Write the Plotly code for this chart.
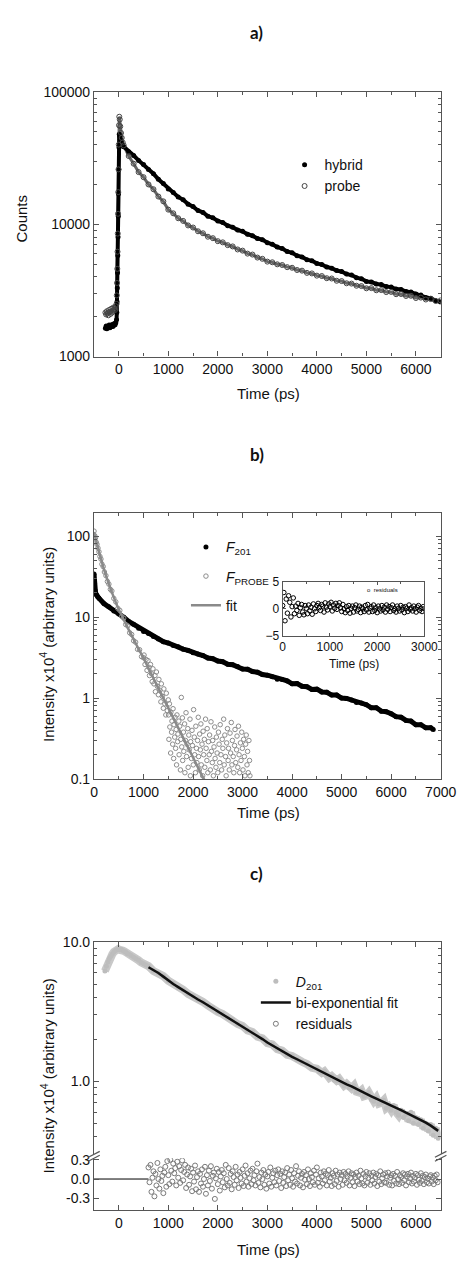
import plotly.graph_objects as go

W, H = 472, 1267
FONT = "Liberation Sans, Arial, sans-serif"
AX = "#555"


def py(p):
    # pixel row -> paper fraction
    return 1 - p / H


def px(p):
    return p / W


# ---------------- panel a) : raw decays (counts) ----------------
a_time_pre = [-270, -255, -240, -225, -210, -195, -180, -165, -150, -135, -120, -105, -90, -75, -60,
              -45, -40, -35, -30, -25, -20, -15, -10, -5, 0, 5, 10, 20, 30, 45, 60, 80]
a_time_decay = list(range(100, 6501, 100))
a_time = a_time_pre + a_time_decay

hybrid_counts = [1640, 1700, 1620, 1690, 1660, 1730, 1650, 1700, 1680, 1750, 1690, 1720, 1780, 1740, 1800,
                 1900, 2150, 2600, 3300, 4300, 5800, 8000, 11500, 17000, 26000, 38000, 48000, 46000, 44000, 42000, 40500, 39500,
                 38600, 35300, 33100, 30400, 28300, 25900, 24100, 21900, 20300, 18500,
                 17400, 16100, 15300, 14200, 13600, 12700, 12300, 11500, 11200, 10600,
                 10300, 9750, 9500, 9050, 8850, 8400, 8200, 7800, 7650, 7250,
                 7050, 6720, 6550, 6230, 6080, 5790, 5660, 5400, 5290, 5060,
                 4960, 4750, 4660, 4470, 4390, 4200, 4130, 3950, 3870, 3700,
                 3660, 3540, 3500, 3380, 3350, 3240, 3210, 3100, 3070, 2970,
                 2920, 2800, 2760, 2640, 2590]

probe_counts = [2150, 2080, 2200, 2120, 2050, 2250, 2180, 2100, 2300, 2150, 2220, 2350, 2300, 2250, 2400,
                2500, 2900, 3600, 4600, 6200, 8500, 12000, 17500, 26000, 40000, 56000, 65000, 62000, 55000, 49000, 45000, 41500,
                39500, 32800, 28700, 24800, 22700, 20000, 18400, 16200, 14900, 12900,
                12100, 11100, 10600, 9800, 9450, 8850, 8550, 8050, 7850, 7450,
                7300, 6950, 6800, 6450, 6320, 6000, 5900, 5600, 5480, 5220,
                5160, 4980, 4920, 4740, 4690, 4510, 4460, 4290, 4250, 4090,
                4060, 3910, 3890, 3740, 3720, 3580, 3560, 3430, 3410, 3280,
                3290, 3170, 3180, 3070, 3080, 2960, 2970, 2870, 2880, 2770,
                2790, 2700, 2720, 2630, 2660]

# ---------------- panel b) : normalised decays ----------------
b_time = [0, 10, 20, 30, 50, 75] + list(range(100, 6801, 100)) + [6850]
f201 = [34, 26, 21.5, 20, 18.8, 17.8,
        17.1, 14.7, 13.4, 11.9, 10.9, 9.95, 8.85, 8.15, 7.3, 6.65,
        6.25, 5.75, 5.35, 4.97, 4.78, 4.46, 4.29, 4.02, 3.88, 3.62,
        3.5, 3.35, 3.12, 3.06, 2.87, 2.81, 2.62, 2.58, 2.46, 2.29,
        2.27, 2.13, 2.09, 1.95, 1.92, 1.84, 1.71, 1.7, 1.63, 1.5,
        1.51, 1.4, 1.38, 1.28, 1.29, 1.19, 1.18, 1.09, 1.09, 1.0,
        0.99, 0.95, 0.88, 0.87, 0.83, 0.76, 0.76, 0.69, 0.68, 0.64,
        0.59, 0.58, 0.53, 0.52, 0.47, 0.47, 0.43, 0.43, 0.41]

fprobe_time = [0, 15, 30, 45, 60, 80, 100, 120, 140, 160, 185, 210, 240, 270, 300, 330, 360, 400, 440, 480,
               520, 560, 600, 640, 680, 720, 760, 800, 840, 880, 920, 960, 1000,
               1010, 1030, 1050, 1070, 1090, 1110, 1120, 1140, 1160, 1175, 1190, 1210, 1230, 1240, 1260,
               1280, 1300, 1310, 1330, 1350, 1360, 1380, 1400, 1410, 1430, 1450, 1460, 1480, 1500,
               1505, 1512, 1523, 1531, 1547, 1552, 1566, 1574, 1588, 1596,
               1608, 1615, 1629, 1637, 1648, 1659, 1667, 1675, 1689, 1694,
               1712, 1718, 1731, 1745, 1752, 1763, 1771, 1784, 1790, 1806,
               1813, 1829, 1836, 1847, 1858, 1869, 1877, 1893, 1901, 1914,
               1922, 1938, 1946, 1951, 1967, 1979, 1988, 2004, 2011, 2025,
               2033, 2048, 2056, 2069, 2077, 2091, 2105, 2112, 2126, 2133,
               2147, 2158, 2166, 2181, 2194, 2203, 2215, 2228, 2237, 2252,
               2264, 2279, 2285, 2298, 2311, 2326, 2334, 2349, 2362, 2371,
               2388, 2396, 2410, 2423, 2437, 2445, 2462, 2471, 2486, 2499,
               2513, 2525, 2539, 2548, 2563, 2577, 2589, 2602, 2618, 2629,
               2641, 2656, 2668, 2679, 2695, 2708, 2716, 2731, 2747, 2758,
               2772, 2785, 2794, 2811, 2823, 2838, 2847, 2862, 2879, 2888,
               2903, 2917, 2929, 2941, 2956, 2968, 2983, 2995, 3008, 3021,
               3036, 3048, 3062, 3074, 3089, 3101, 3115, 3128, 3140, 3148]
fprobe = [115, 101, 95, 84, 79, 71, 64, 56, 52, 45, 42, 36, 32.5, 27.5, 25.5, 22, 21, 17, 15.4, 12.8,
          12.1, 10.2, 9.7, 8.1, 7.8, 6.4, 6.1, 5.1, 4.9, 4.0, 3.95, 3.25, 3.15,
          3.4, 2.6, 3.0, 2.2, 2.9, 2.4, 1.9, 2.6, 2.0, 1.6, 2.3, 1.5, 1.9, 1.2, 2.1,
          1.4, 1.1, 1.7, 1.25, 0.9, 1.5, 1.05, 0.75, 1.3, 0.85, 0.62, 1.15, 0.7, 0.95,
          0.62, 0.31, 0.85, 0.44, 0.21, 0.67, 0.38, 0.52, 0.27, 0.74,
          0.18, 0.47, 0.33, 0.58, 0.24, 0.41, 0.15, 0.62, 0.29, 0.36,
          0.52, 0.2, 0.45, 0.13, 0.31, 1.02, 0.25, 0.57, 0.17, 0.38,
          0.22, 0.48, 0.12, 0.3, 0.66, 0.19, 0.27, 0.42, 0.14, 0.35,
          0.23, 0.55, 0.11, 0.29, 0.18, 0.4, 0.26, 0.15, 0.72, 0.33,
          0.2, 0.12, 0.45, 0.24, 0.16, 0.3, 0.58, 0.19, 0.13, 0.36,
          0.23, 0.48, 0.15, 0.27, 0.11, 0.39, 0.2, 0.31, 0.14, 0.55,
          0.24, 0.17, 0.42, 0.12, 0.29, 0.2, 0.35, 0.13, 0.51, 0.22,
          0.16, 0.3, 0.11, 0.25, 0.44, 0.18, 0.14, 0.33, 0.21, 0.12,
          0.38, 0.27, 0.16, 0.47, 0.2, 0.13, 0.31, 0.24, 0.55, 0.15,
          0.35, 0.19, 0.11, 0.28, 0.42, 0.17, 0.24, 0.13, 0.37, 0.21,
          0.5, 0.15, 0.3, 0.19, 0.12, 0.26, 0.41, 0.16, 0.23, 0.34,
          0.14, 0.45, 0.2, 0.12, 0.28, 0.17, 0.38, 0.24, 0.13, 0.31,
          0.19, 0.11, 0.27, 0.35, 0.15, 0.22, 0.12, 0.3, 0.17, 0.11]

fit_b_time = [0, 50, 100, 150, 200, 300, 400, 500, 600, 700, 800, 900, 1000, 1200, 1400, 1600, 1800, 2000, 2200, 2240]
fit_b = [112, 84, 64, 50, 39, 25.5, 17.5, 12.4, 9.3, 7.0, 5.3, 4.05, 3.1, 1.75, 1.0, 0.57, 0.325, 0.185, 0.105, 0.095]

inset_time = list(range(0, 3001, 25))
inset_resid = [0.6, 3.0, -2.2, 1.8, -0.8, 2.4, 1.2, -1.5, 0.4, 2.0,
               -0.9, 0.5, -0.3, 1.0, -1.2, 0.2, 0.8, -0.6, -1.1, 0.6,
               0.1, -0.9, 0.7, -0.4, 0.3, -1.0, 0.9, 0.0, -0.5, 0.6,
               1.0, 0.2, -0.3, 0.8, 0.5, -0.6, 1.1, 0.3, -0.2, 0.9,
               0.4, 1.2, -0.4, 0.7, 0.1, 1.0, -0.1, 0.6, 1.1, 0.2,
               -0.5, 0.8, 0.0, -0.7, 0.4, -0.3, 0.6, -0.8, 0.1, 0.5,
               -0.6, 0.2, 0.7, -0.4, -0.1, 0.5, -0.7, 0.3, 0.0, -0.5,
               0.6, -0.2, 0.8, -0.6, 0.1, 0.4, -0.5, 0.7, -0.3, 0.2,
               -0.7, 0.5, 0.0, -0.4, 0.6, -0.2, 0.3, -0.6, 0.7, -0.1,
               0.4, -0.5, 0.2, 0.7, -0.3, 0.0, -0.6, 0.5, 0.1, -0.4,
               0.6, -0.2, 0.3, -0.7, 0.4, 0.1, -0.5, 0.7, -0.1, 0.2,
               -0.4, 0.5, 0.0, -0.6, 0.3, 0.6, -0.3, 0.1, -0.5, 0.4,
               0.0]

# ---------------- panel c) : difference decay + fit ----------------
d201_time = ([-280, -250, -220, -190, -160, -130, -100, -70, -40, -10, 20, 50, 80, 110, 140, 170, 200,
              250, 300, 350, 400, 450, 500, 550] + list(range(600, 3901, 100)) + list(range(4000, 6451, 50)))
d201 = [6.2, 6.7, 7.2, 7.6, 7.9, 8.2, 8.5, 8.7, 8.8, 8.9, 8.8, 8.9, 8.7, 8.6, 8.5, 8.3, 8.2,
        8.0, 7.8, 7.6, 7.4, 7.15, 7.0, 6.85,
        6.72, 6.2, 6.0, 5.7, 5.28, 5.05, 4.7, 4.55, 4.25, 4.1,
        3.85, 3.72, 3.5, 3.38, 3.15, 3.04, 2.85, 2.77, 2.58, 2.5,
        2.32, 2.26, 2.09, 2.04, 1.88, 1.84, 1.7, 1.66, 1.55, 1.52,
        1.43, 1.38, 1.33, 1.25,
        1.23, 1.17, 1.15, 1.18, 1.1, 1.06, 1.09, 1.02, 1.01, 1.04,
        0.97, 0.93, 0.96, 0.9, 0.89, 0.93, 0.84, 0.83, 0.86, 0.78,
        0.79, 0.83, 0.74, 0.72, 0.76, 0.69, 0.7, 0.73, 0.64, 0.66,
        0.62, 0.67, 0.6, 0.57, 0.62, 0.55, 0.58, 0.52, 0.6, 0.5,
        0.55, 0.49, 0.53, 0.46, 0.5, 0.44, 0.49, 0.41, 0.46, 0.39]

fit_c_time = list(range(600, 6401, 100)) + [6450]
fit_c = [6.6, 6.3, 6.0, 5.65, 5.3, 5.0, 4.75, 4.5, 4.28, 4.05,
         3.87, 3.7, 3.52, 3.35, 3.17, 3.02, 2.88, 2.74, 2.6, 2.47,
         2.35, 2.23, 2.12, 2.01, 1.9, 1.81, 1.72, 1.64, 1.57, 1.5,
         1.44, 1.38, 1.32, 1.27, 1.22, 1.17, 1.12, 1.08, 1.03, 0.99,
         0.95, 0.92, 0.88, 0.845, 0.81, 0.78, 0.75, 0.72, 0.695, 0.67,
         0.645, 0.62, 0.595, 0.575, 0.555, 0.53, 0.505, 0.48, 0.455, 0.44]

resid_c_time = list(range(600, 6441, 20))
resid_c = [0.18, -0.05, 0.22, -0.2, 0.02, 0.12, -0.27, 0.08, -0.1, 0.25, 0.0, -0.15, 0.15, -0.03, 0.05,
           -0.22, 0.1, 0.19, -0.12, 0.28, 0.06, -0.08, 0.3, 0.13, -0.04, 0.24, 0.09, 0.17, -0.1, 0.27,
           0.02, 0.2, -0.06, 0.14, 0.29, -0.02, 0.11, 0.22, -0.14, 0.07, 0.18, -0.09, 0.04, 0.16, -0.19,
           0.1, -0.04, 0.21, -0.16, 0.03, 0.12, -0.2, 0.08, -0.07, 0.15, -0.12, 0.0, 0.19, -0.23, 0.06,
           -0.1, 0.13, -0.03, 0.2, -0.15, 0.05, 0.1, -0.31, 0.01, 0.16, -0.08, 0.11, -0.18, 0.04, 0.14,
           -0.05, 0.09, -0.13, 0.22, 0.0, -0.1, 0.17, -0.06, 0.08, -0.16, 0.12, 0.03, -0.09, 0.19, -0.02,
           0.07, -0.14, 0.11, 0.02, -0.07, 0.15, -0.11, 0.05, 0.21, -0.04, 0.09, -0.12, 0.01, 0.13, -0.08,
           0.16, -0.02, 0.06, -0.1, 0.12, 0.24, -0.06, 0.03, -0.13, 0.1, 0.0, 0.14, -0.09, 0.07, -0.15,
           0.04, 0.11, -0.07, 0.18, -0.12, 0.02, 0.09, -0.05, 0.13, -0.1, 0.06, 0.15, -0.03, 0.08, -0.14,
           0.12, -0.06, 0.03, 0.1, -0.11, 0.17, -0.02, 0.07, -0.09, 0.14, 0.01, -0.12, 0.09, -0.04, 0.2,
           -0.07, 0.05, 0.12, -0.1, 0.02, 0.08, -0.13, 0.11, -0.01, 0.06, -0.08, 0.15, 0.0, -0.11, 0.09,
           0.03, -0.05, 0.13, -0.09, 0.07, 0.18, -0.06, 0.01, -0.12, 0.1, 0.04, -0.07, 0.12, -0.02, 0.08,
           -0.1, 0.06, 0.14, -0.04, 0.02, -0.11, 0.09, 0.05, -0.08, 0.13, -0.03, 0.07, -0.12, 0.1, 0.0,
           0.06, -0.09, 0.11, -0.02, 0.08, -0.06, 0.04, 0.12, -0.1, 0.02, 0.09, -0.05, 0.07, -0.11, 0.03,
           0.1, -0.04, 0.05, -0.08, 0.13, 0.01, -0.07, 0.08, -0.1, 0.04, 0.11, -0.06, 0.02, 0.09, -0.09,
           0.05, -0.02, 0.1, -0.07, 0.03, 0.08, -0.11, 0.06, -0.04, 0.12, -0.08, 0.01, 0.07, -0.05, 0.09,
           -0.06, 0.04, 0.1, -0.09, 0.02, 0.06, -0.1, 0.08, -0.03, 0.05, -0.07, 0.11, 0.0, -0.08, 0.06,
           0.03, -0.06, 0.09, -0.02, 0.07, -0.1, 0.04, 0.08, -0.05, 0.01, 0.1, -0.07, 0.05, -0.04, 0.02,
           0.08, -0.09, 0.06, -0.01, -0.06, 0.09, -0.03, 0.05, -0.08, 0.03, 0.07, -0.05, 0.01, -0.07, 0.04,
           0.06, -0.04, 0.02, -0.08, 0.05, -0.02, 0.07, -0.05]
zero_time = [-500, 600]
zero_val = [0, 0]

fig = go.Figure()

# --- a)
fig.add_trace(go.Scatter(x=a_time, y=probe_counts, mode="lines", line=dict(color="#666", width=3),
                         xaxis="x", yaxis="y", showlegend=False, hoverinfo="skip"))
fig.add_trace(go.Scatter(x=a_time, y=hybrid_counts, mode="lines", line=dict(color="#000", width=4),
                         xaxis="x", yaxis="y", showlegend=False, hoverinfo="skip"))
fig.add_trace(go.Scatter(x=a_time, y=hybrid_counts, mode="markers", name="hybrid",
                         marker=dict(color="#000", size=5), xaxis="x", yaxis="y", legend="legend"))
fig.add_trace(go.Scatter(x=a_time, y=probe_counts, mode="markers", name="probe",
                         marker=dict(color="#444", size=5, symbol="circle-open", line=dict(width=1)),
                         xaxis="x", yaxis="y", legend="legend"))

# --- b)
fig.add_trace(go.Scatter(x=b_time, y=f201, mode="lines", line=dict(color="#000", width=5),
                         xaxis="x2", yaxis="y2", showlegend=False, hoverinfo="skip"))
fig.add_trace(go.Scatter(x=b_time, y=f201, mode="markers", name="<i>F</i><sub>201</sub>", legendgroup="g1",
                         marker=dict(color="#000", size=5), xaxis="x2", yaxis="y2", legend="legend2"))
fig.add_trace(go.Scatter(x=fprobe_time, y=fprobe, mode="markers", name="<i>F</i><sub>PROBE</sub>", legendgroup="g2",
                         marker=dict(color="#8c8c8c", size=4.5, symbol="circle-open", line=dict(width=1)),
                         xaxis="x2", yaxis="y2", legend="legend2"))
fig.add_trace(go.Scatter(x=fit_b_time, y=fit_b, mode="lines", name="fit", legendgroup="g3",
                         line=dict(color="#8a8a8a", width=2.5, shape="spline"),
                         xaxis="x2", yaxis="y2", legend="legend2"))
fig.add_trace(go.Scatter(x=inset_time, y=inset_resid, mode="markers", name="residuals",
                         marker=dict(color="#000", size=4.5, symbol="circle-open", line=dict(width=1)),
                         xaxis="x3", yaxis="y3", showlegend=False))

# --- c)
fig.add_trace(go.Scatter(x=d201_time, y=d201, mode="lines", line=dict(color="#c8c8c8", width=8),
                         xaxis="x4", yaxis="y4", showlegend=False, hoverinfo="skip"))
fig.add_trace(go.Scatter(x=d201_time, y=d201, mode="markers", name="<i>D</i><sub>201</sub>",
                         marker=dict(color="#bdbdbd", size=5), xaxis="x4", yaxis="y4", legend="legend3"))
fig.add_trace(go.Scatter(x=fit_c_time, y=fit_c, mode="lines", name="bi-exponential fit",
                         line=dict(color="#111", width=2.5), xaxis="x4", yaxis="y4", legend="legend3"))
fig.add_trace(go.Scatter(x=resid_c_time, y=resid_c, mode="markers", name="residuals",
                         marker=dict(color="#7a7a7a", size=5, symbol="circle-open", line=dict(width=1)),
                         xaxis="x5", yaxis="y5", legend="legend3"))
fig.add_trace(go.Scatter(x=zero_time, y=zero_val, mode="lines", line=dict(color="#000", width=1),
                         xaxis="x5", yaxis="y5", showlegend=False, hoverinfo="skip"))


def axis(**kw):
    d = dict(showline=True, linecolor=AX, linewidth=1.2, mirror="allticks", ticks="inside",
             ticklen=5, tickcolor=AX, tickwidth=1, showgrid=False, zeroline=False,
             tickfont=dict(family=FONT, size=14, color="#111"))
    d.update(kw)
    return d


xminor = dict(ticks="inside", ticklen=3, tickcolor=AX, dtick=500, showgrid=False)
logminor = dict(ticks="inside", ticklen=3, tickcolor=AX, dtick="D1", showgrid=False)
xdom = [px(94), px(456)]

fig.update_layout(
    width=W, height=H, margin=dict(l=0, r=0, t=0, b=0),
    paper_bgcolor="white", plot_bgcolor="white",
    xaxis=axis(domain=xdom, anchor="y", range=[-500, 6500], dtick=1000, tick0=0, minor=xminor),
    yaxis=axis(domain=[py(353), py(85)], anchor="x", type="log", range=[3, 5.0005],
               tickvals=[1000, 10000, 100000], ticktext=["1000", "10000", "100000"], minor=logminor),
    xaxis2=axis(domain=xdom, anchor="y2", range=[0, 7000], dtick=1000, tick0=0, minor=xminor),
    yaxis2=axis(domain=[py(781), py(511)], anchor="x2", type="log", range=[-1, 2.29],
                tickvals=[0.1, 1, 10, 100], ticktext=["0.1", "1", "10", "100"], minor=logminor),
    xaxis3=axis(domain=[px(291), px(439)], anchor="y3", range=[0, 3000], dtick=1000, tick0=0, ticklen=3,
                tickfont=dict(family=FONT, size=12, color="#111"),
                minor=dict(ticks="inside", ticklen=2, tickcolor=AX, dtick=500)),
    yaxis3=axis(domain=[py(636), py(581)], anchor="x3", range=[-5, 5], tickvals=[-5, 0, 5], ticklen=3,
                tickfont=dict(family=FONT, size=12, color="#111")),
    xaxis4=axis(domain=xdom, anchor="y4", range=[-500, 6500], dtick=1000, tick0=0, side="top",
                mirror=False, showticklabels=False, minor=xminor),
    yaxis4=axis(domain=[py(1161), py(946)], anchor="x4", type="log", range=[-0.525, 1.0005],
                tickvals=[1, 10], ticktext=["1.0", "10.0"], minor=logminor),
    xaxis5=axis(domain=xdom, anchor="y5", range=[-500, 6500], dtick=1000, tick0=0, side="bottom",
                mirror=False, minor=xminor),
    yaxis5=axis(domain=[py(1217), py(1165)], anchor="x5", range=[-0.477, 0.323],
                tickvals=[-0.3, 0, 0.3], ticktext=["-0.3", "0.0", "0.3"]),
    legend=dict(x=px(293), y=py(143), xanchor="left", yanchor="top", bgcolor="rgba(0,0,0,0)",
                font=dict(family=FONT, size=14, color="#111"), tracegroupgap=0),
    legend2=dict(x=px(190), y=py(530), xanchor="left", yanchor="top", bgcolor="rgba(0,0,0,0)",
                 font=dict(family=FONT, size=14, color="#111"), tracegroupgap=8),
    legend3=dict(x=px(263), y=py(970), xanchor="left", yanchor="top", bgcolor="rgba(0,0,0,0)",
                 font=dict(family=FONT, size=14, color="#111"), tracegroupgap=0),
)

ann = []


def note(text, x, y, size, angle=0, family=FONT, xanchor="center"):
    ann.append(dict(text=text, x=px(x), y=py(y), xref="paper", yref="paper", showarrow=False,
                    xanchor=xanchor, yanchor="middle", textangle=angle,
                    font=dict(family=family, size=size, color="#111")))


for label, yy in [("a)", 25), ("b)", 452), ("c)", 877)]:
    note(f"<b>{label}</b>", 264, yy, 17, family="Lato, Open Sans, sans-serif")
for yy in [390, 815, 1257]:
    note("Time (ps)", 276, yy, 15)
note("Counts", 18, 213, 15, angle=-90)
for yy in [645, 1082]:
    note("Intensity x10<sup>4</sup> (arbitrary units)", 45, yy, 15, angle=-90)
note("Time (ps)", 365, 664, 12)
note("o  residuals", 377, 589, 6, xanchor="left")
fig.update_layout(annotations=ann)

# axis break marks on panel c
shapes = []
for xb in [94, 456]:
    for dy in [-2, 2]:
        shapes.append(dict(type="line", xref="paper", yref="paper", x0=px(xb - 6), x1=px(xb + 6),
                           y0=py(1166 + dy), y1=py(1160 + dy), line=dict(color=AX, width=1.2)))
fig.update_layout(shapes=shapes)

fig.write_html("out.html", config={"displayModeBar": False},
               post_script="document.body.style.margin='0';")
